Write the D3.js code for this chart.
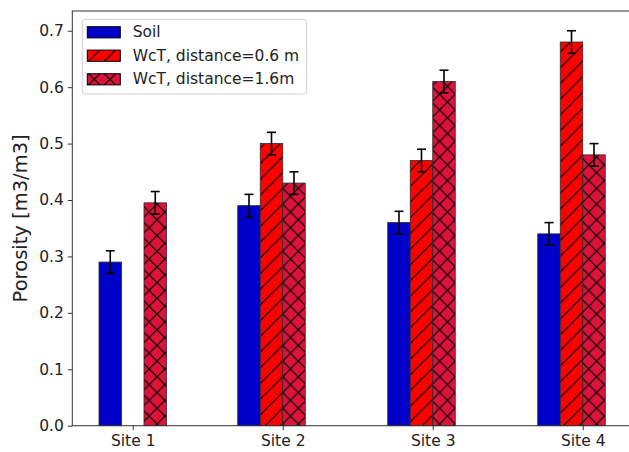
<!DOCTYPE html>
<html>
<head>
<meta charset="utf-8">
<script src="https://cdn.jsdelivr.net/npm/d3@7"></script>
<style>
  body { margin: 0; background: #fff; }
  svg { display: block; font-family: "DejaVu Sans", sans-serif; }
</style>
</head>
<body>
<svg id="chart" width="629" height="452"></svg>
<script>
// data
const sites = ["Site 1", "Site 2", "Site 3", "Site 4"];
const soil = [0.29, 0.39, 0.36, 0.34];
const wct06 = [null, 0.50, 0.47, 0.68];
const wct16 = [0.395, 0.43, 0.61, 0.48];
const soilErr = [0.02, 0.02, 0.02, 0.02];
const wct06Err = [null, 0.02, 0.02, 0.02];
const wct16Err = [0.02, 0.02, 0.02, 0.02];
const yTicks = [0.0, 0.1, 0.2, 0.3, 0.4, 0.5, 0.6, 0.7];
const seriesNames = ["Soil", "WcT, distance=0.6 m", "WcT, distance=1.6m"];

const svg = d3.select("#chart");
const width = +svg.attr("width");
const height = +svg.attr("height");

const plotLeft = 72.3, plotTop = 11, plotBottom = 425.7;
const unit = 150; // px per site
const barW = 0.15;

const x = d3.scaleLinear().domain([-0.403, 3.5]).range([plotLeft, plotLeft + 3.903 * unit]);
const y = d3.scaleLinear().domain([0, 0.735]).range([plotBottom, plotTop]);

// hatch patterns
const defs = svg.append("defs");
const s = 15.7;
function hatch(id, color, cross) {
    const p = defs.append("pattern")
        .attr("id", id)
        .attr("patternUnits", "userSpaceOnUse")
        .attr("width", s).attr("height", s);
    p.append("rect").attr("width", s).attr("height", s).attr("fill", color);
    p.append("path")
        .attr("d", `M-2,2 L2,-2 M0,${s} L${s},0 M${s - 2},${s + 2} L${s + 2},${s - 2}`)
        .attr("stroke", "#000").attr("stroke-width", 1.2);
    if (cross) {
        p.append("path")
            .attr("d", `M-2,${s - 2} L2,${s + 2} M0,0 L${s},${s} M${s - 2},-2 L${s + 2},2`)
            .attr("stroke", "#000").attr("stroke-width", 1.2);
    }
}
hatch("hatchSlash", "#ff0000", false);
hatch("hatchCross", "#dc143c", true);

const fills = ["#0000c8", "url(#hatchSlash)", "url(#hatchCross)"];

// build bar list
const bars = [];
sites.forEach((site, i) => {
    const full = wct06[i] != null;
    // sites with all three bars are shifted half a bar to the left
    const offsets = full ? [-1.5 * barW, -0.5 * barW, 0.5 * barW] : [-barW, 0, barW];
    [[soil, soilErr], [wct06, wct06Err], [wct16, wct16Err]].forEach(([vals, errs], k) => {
        if (vals[i] == null) return;
        bars.push({ site: i, series: k, value: vals[i], err: errs[i], cx: i + offsets[k] });
    });
});

const plot = svg.append("g");

plot.selectAll("rect.bar")
    .data(bars)
    .join("rect")
    .attr("class", "bar")
    .attr("x", d => x(d.cx - barW / 2))
    .attr("y", d => y(d.value))
    .attr("width", d => x(d.cx + barW / 2) - x(d.cx - barW / 2))
    .attr("height", d => y(0) - y(d.value))
    .attr("fill", d => fills[d.series])
    .attr("stroke", "#2a2a2a")
    .attr("stroke-width", 0.8);

// error bars
const eb = plot.selectAll("g.err")
    .data(bars)
    .join("g")
    .attr("class", "err")
    .attr("stroke", "#000")
    .attr("stroke-width", 1.6);
eb.append("line")
    .attr("x1", d => x(d.cx)).attr("x2", d => x(d.cx))
    .attr("y1", d => y(d.value - d.err)).attr("y2", d => y(d.value + d.err));
eb.append("line")
    .attr("x1", d => x(d.cx) - 4.5).attr("x2", d => x(d.cx) + 4.5)
    .attr("y1", d => y(d.value + d.err)).attr("y2", d => y(d.value + d.err));
eb.append("line")
    .attr("x1", d => x(d.cx) - 4.5).attr("x2", d => x(d.cx) + 4.5)
    .attr("y1", d => y(d.value - d.err)).attr("y2", d => y(d.value - d.err));

// axes
const xAxis = svg.append("g")
    .attr("transform", `translate(0,${plotBottom})`)
    .call(d3.axisBottom(x).tickValues(d3.range(sites.length)).tickFormat(i => sites[i]).tickSize(4.5).tickPadding(5));
const yAxis = svg.append("g")
    .attr("transform", `translate(${plotLeft},0)`)
    .call(d3.axisLeft(y).tickValues(yTicks).tickFormat(d3.format(".1f")).tickSize(4.5).tickPadding(4));

[xAxis, yAxis].forEach(g => {
    g.select(".domain").remove();
    g.selectAll("line").attr("stroke", "#333").attr("stroke-width", 1);
    g.selectAll("text").attr("font-size", 15.5).attr("fill", "#222")
        .attr("font-family", "DejaVu Sans, sans-serif");
});

// spines
svg.append("rect")
    .attr("x", plotLeft).attr("y", plotTop)
    .attr("width", width + 10 - plotLeft).attr("height", plotBottom - plotTop)
    .attr("fill", "none").attr("stroke", "#333").attr("stroke-width", 1);

// y label
svg.append("text")
    .attr("transform", `translate(20,${(plotTop + plotBottom) / 2}) rotate(-90)`)
    .attr("text-anchor", "middle")
    .attr("dominant-baseline", "central")
    .attr("font-size", 19.5)
    .attr("fill", "#222")
    .text("Porosity [m3/m3]");

// legend
const legend = svg.append("g");
legend.append("rect")
    .attr("x", 82.3).attr("y", 19.3)
    .attr("width", 224.4).attr("height", 74.7)
    .attr("rx", 3)
    .attr("fill", "#fff").attr("fill-opacity", 0.8)
    .attr("stroke", "#d0d0d0").attr("stroke-width", 1);
const rowY = [32.3, 55.7, 79.3];
const items = legend.selectAll("g.item")
    .data(seriesNames)
    .join("g")
    .attr("class", "item")
    .attr("transform", (d, i) => `translate(0,${rowY[i]})`);
items.append("rect")
    .attr("x", 87.3).attr("y", -5.6)
    .attr("width", 33).attr("height", 11.2)
    .attr("fill", (d, i) => fills[i])
    .attr("stroke", "#000").attr("stroke-width", 1);
items.append("text")
    .attr("x", 132.7)
    .attr("dominant-baseline", "central")
    .attr("font-size", 15.5)
    .attr("fill", "#222")
    .text(d => d);
</script>
</body>
</html>
